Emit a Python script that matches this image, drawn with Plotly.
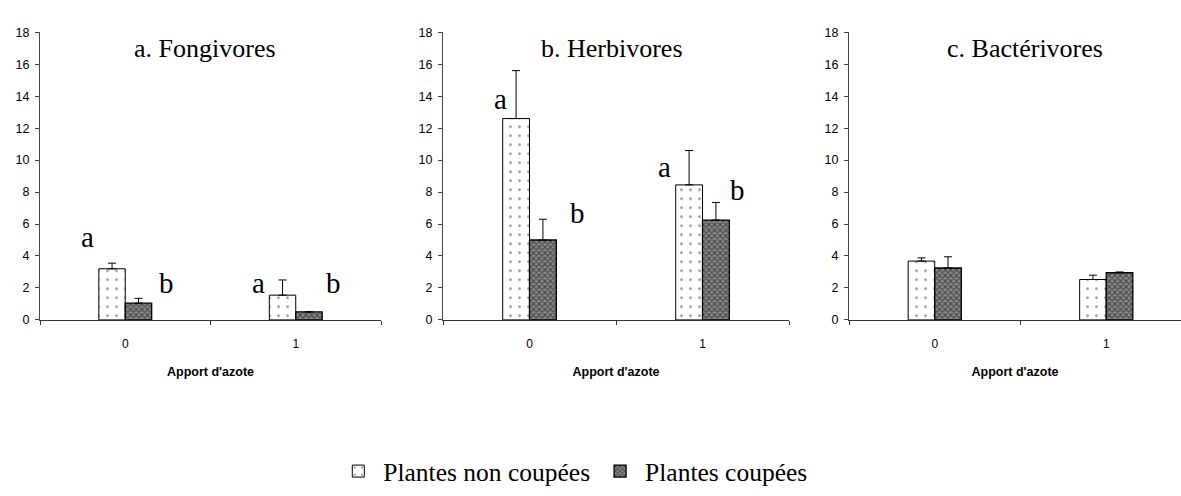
import plotly.graph_objects as go

# Nitrogen input levels (x categories)
categories = ["0", "1"]

# Panel titles
panel_titles = ["a. Fongivores", "b. Herbivores", "c. Bactérivores"]

# Mean abundance per panel: uncut plants / cut plants
uncut_means = [[3.2, 1.55], [12.6, 8.45], [3.68, 2.53]]
uncut_errors = [[0.35, 0.95], [3.0, 2.15], [0.2, 0.27]]
cut_means = [[1.05, 0.5], [5.0, 6.25], [3.25, 2.95]]
cut_errors = [[0.3, 0.0], [1.3, 1.1], [0.7, 0.05]]

# Significance letters: (panel, x position, y position, letter)
letters = [
    (0, -0.22, 5.2, "a"), (0, 0.24, 2.3, "b"), (0, 0.78, 2.3, "a"), (0, 1.22, 2.3, "b"),
    (1, -0.17, 13.8, "a"), (1, 0.275, 6.7, "b"), (1, 0.78, 9.55, "a"), (1, 1.2, 8.15, "b"),
]

series_names = ["Plantes non coupées", "Plantes coupées"]

W, H = 1181, 496
# pixel extents of each panel's plotting area
x_px = [(40, 381), (443, 789), (849, 1181)]
x_ranges = [[-0.5, 1.5], [-0.5, 1.5], [-0.5, 1.436]]
y_px = (26, 322)
title_px = [205, 612, 1025]

serif = "Liberation Serif"
sans = "Liberation Sans"

fig = go.Figure()

for i in range(3):
    xa = "x" if i == 0 else f"x{i + 1}"
    ya = "y" if i == 0 else f"y{i + 1}"
    fig.add_trace(go.Bar(
        x=categories, y=uncut_means[i], name=series_names[0],
        xaxis=xa, yaxis=ya, showlegend=(i == 0), legendgroup="u",
        marker=dict(color="white", line=dict(color="black", width=1),
                    pattern=dict(shape=".", fgcolor="#222222", bgcolor="white",
                                 size=9, solidity=0.07)),
        error_y=dict(type="data", symmetric=False, array=uncut_errors[i],
                     arrayminus=[0, 0], color="black", thickness=1, width=4),
    ))
    fig.add_trace(go.Bar(
        x=categories, y=cut_means[i], name=series_names[1],
        xaxis=xa, yaxis=ya, showlegend=(i == 0), legendgroup="c",
        marker=dict(color="#555555", line=dict(color="black", width=1.3),
                    pattern=dict(shape="x", fgcolor="#0a0a0a", bgcolor="#8a8a8a",
                                 size=4, solidity=0.5)),
        error_y=dict(type="data", symmetric=False, array=cut_errors[i],
                     arrayminus=[0, 0], color="black", thickness=1, width=4),
    ))

layout = dict(
    width=W, height=H,
    margin=dict(l=0, r=0, t=0, b=0),
    paper_bgcolor="white", plot_bgcolor="white",
    barmode="group", bargap=0.69, bargroupgap=0,
    showlegend=True,
    legend=dict(orientation="h", x=0.485, xanchor="center",
                y=(H - 478) / H, yanchor="middle",
                font=dict(family=serif, size=25.5, color="black"),
                itemwidth=40, tracegroupgap=0),
)

annotations = []
for i in range(3):
    sfx = "" if i == 0 else str(i + 1)
    layout[f"xaxis{sfx}"] = dict(
        domain=[x_px[i][0] / W, x_px[i][1] / W],
        anchor=f"y{sfx}", type="category", range=x_ranges[i],
        showline=True, linecolor="#333333", linewidth=1,
        ticks="outside", tickson="boundaries", ticklen=4, tickcolor="#333333",
        tickfont=dict(family=sans, size=12, color="black"),
        ticklabelstandoff=13,
        showgrid=False, zeroline=False, fixedrange=True,
        title=dict(text="<b>Apport d'azote</b>", standoff=16,
                   font=dict(family=sans, size=12.5, color="black")),
    )
    layout[f"yaxis{sfx}"] = dict(
        domain=[(H - y_px[1]) / H, (H - y_px[0]) / H],
        anchor=f"x{sfx}", range=[0, 18], dtick=2,
        showline=True, linecolor="#444444", linewidth=1,
        ticks="outside", ticklen=4, tickcolor="#444444",
        tickfont=dict(family=sans, size=12.5, color="black"),
        ticklabelstandoff=3,
        showgrid=False, zeroline=False, fixedrange=True,
    )
    annotations.append(dict(
        text=panel_titles[i], xref="paper", yref="paper",
        x=title_px[i] / W, y=(H - 43) / H, xanchor="center", yanchor="middle",
        showarrow=False, font=dict(family=serif, size=26, color="black"),
    ))

for p, xv, yv, t in letters:
    sfx = "" if p == 0 else str(p + 1)
    annotations.append(dict(
        text=t, xref=f"x{sfx}", yref=f"y{sfx}", x=xv, y=yv,
        xanchor="center", yanchor="middle", showarrow=False,
        font=dict(family=serif, size=29, color="black"),
    ))

layout["annotations"] = annotations
fig.update_layout(**layout)

fig.write_html("out.html")
